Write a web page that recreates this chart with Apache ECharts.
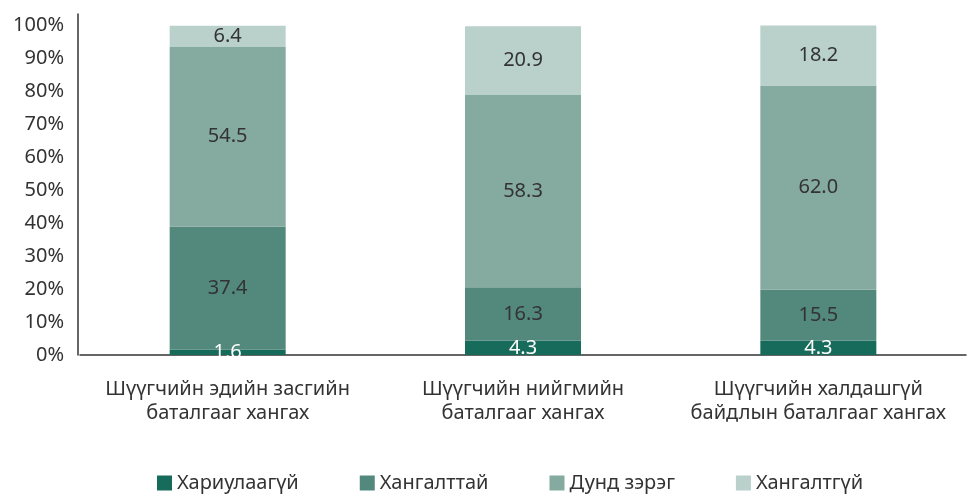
<!DOCTYPE html>
<html>
<head>
<meta charset="utf-8">
<script src="https://cdn.jsdelivr.net/npm/echarts@6/dist/echarts.min.js"></script>
<style>
  html, body { margin: 0; padding: 0; background: #fff; }
  #chart { width: 973px; height: 494px; }
</style>
</head>
<body>
<div id="chart"></div>
<script>
// categories and values (percent)
const categories = [
  'Шүүгчийн эдийн засгийн\nбаталгааг хангах',
  'Шүүгчийн нийгмийн\nбаталгааг хангах',
  'Шүүгчийн халдашгүй\nбайдлын баталгааг хангах'
]
const seriesNames = ['Хариулаагүй', 'Хангалттай', 'Дунд зэрэг', 'Хангалтгүй']
const noAnswer = [1.6, 4.3, 4.3]
const enough = [37.4, 16.3, 15.5]
const medium = [54.5, 58.3, 62.0]
const notEnough = [6.4, 20.9, 18.2]

const colors = ['#176b5b', '#52897c', '#85aaa0', '#b9d1ca']
const labelColors = ['#ffffff', '#333333', '#333333', '#333333']
const allValues = [noAnswer, enough, medium, notEnough]

const font = 'Noto Sans'
const chart = echarts.init(document.getElementById('chart'))

const series = allValues.map((vals, i) => ({
  name: seriesNames[i],
  type: 'bar',
  stack: 'total',
  barWidth: 116,
  data: vals,
  itemStyle: { color: colors[i] },
  label: {
    show: true,
    position: 'inside',
    color: labelColors[i],
    fontFamily: font,
    fontSize: 20,
    formatter: p => p.value.toFixed(1)
  }
}))

chart.setOption({
  animation: false,
  color: colors,
  grid: { left: 80, right: 7, top: 14, bottom: 139 },
  legend: {
    data: seriesNames,
    bottom: -4,
    left: 152,
    icon: 'rect',
    itemWidth: 15,
    itemHeight: 15,
    itemGap: 61,
    textStyle: { fontFamily: font, fontSize: 20, color: '#333' }
  },
  xAxis: {
    type: 'category',
    data: categories,
    axisLine: { lineStyle: { color: '#333', width: 1.5 } },
    axisTick: { show: false },
    axisLabel: {
      fontFamily: font,
      fontSize: 20,
      color: '#333',
      lineHeight: 24,
      margin: 22,
      interval: 0
    }
  },
  yAxis: {
    type: 'value',
    min: 0,
    max: 103.5,
    interval: 10,
    offset: 2,
    splitLine: { show: false },
    axisLine: { show: true, lineStyle: { color: '#333', width: 1.5 } },
    axisTick: { show: false },
    axisLabel: {
      fontFamily: font,
      fontSize: 20,
      color: '#333',
      margin: 14,
      formatter: v => (v % 10 === 0 ? v + '%' : '')
    }
  },
  series: series
})
</script>
</body>
</html>
